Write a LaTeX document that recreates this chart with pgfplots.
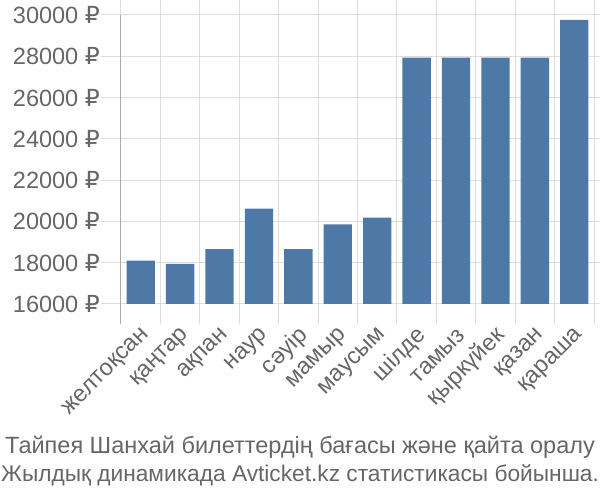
\documentclass[border=0pt]{standalone}
\usepackage{fontspec}
\setmainfont{Liberation Sans}
\newfontfamily\dejavu{DejaVu Sans}
\newcommand{\rub}{{\dejavu ₽}}
\usepackage{pgfplots}
\pgfplotsset{compat=1.18}
\definecolor{barblue}{HTML}{4E79A7}
\definecolor{txt}{HTML}{666666}
\definecolor{gridc}{HTML}{DDDDDD}
\definecolor{axc}{HTML}{AAAAAA}
\begin{document}
\begin{tikzpicture}[x=1pt,y=1pt]
\useasboundingbox (0,0) rectangle (600,500);
\begin{axis}[
  at={(121pt,196pt)}, anchor=south west,
  scale only axis, width=473pt, height=289pt,
  xmin=-0.5, xmax=11.5, ymin=16000, ymax=30000,
  scaled y ticks=false,
  axis line style={draw=none},
  ytick={16000,18000,...,30000},
  yticklabels={16000 \rub,18000 \rub,20000 \rub,22000 \rub,24000 \rub,26000 \rub,28000 \rub,30000 \rub},
  xtick={-0.5,0.5,...,11.5},
  xticklabels={},
  xmajorgrids, ymajorgrids,
  grid style={gridc, line width=1pt},
  tick align=outside,
  major tick length=20pt,
  tick style={gridc, line width=1pt},
  yticklabel style={font=\fontsize{23.5}{27}\selectfont, text=txt, anchor=east, inner sep=0pt, xshift=-1pt},
  extra x ticks={0,1,...,11},
  extra x tick labels={желтоқсан,қаңтар,ақпан,наур,сәуір,мамыр,маусым,шілде,тамыз,қыркүйек,қазан,қараша},
  extra x tick style={grid=none, major tick length=0pt, tick style={draw=none},
    xticklabel style={font=\fontsize{23.5}{27}\selectfont, text=txt, inner sep=0pt, yshift=-28pt, xshift=6pt, rotate=45, anchor=east}},
  clip=false,
]
\addplot[ybar, bar width=0.72, fill=barblue, draw=none] coordinates {
  (0,18100) (1,17940) (2,18660) (3,20620) (4,18660) (5,19860)
  (6,20180) (7,27930) (8,27930) (9,27930) (10,27930) (11,29760)};
\draw[axc, line width=1pt] (rel axis cs:0,1) -- ([yshift=-20pt]rel axis cs:0,0);
\end{axis}
\node[text=txt, font=\fontsize{23.5}{28}\selectfont, inner sep=0pt, anchor=center] at (300,53)
  {Тайпея Шанхай билеттердің бағасы және қайта оралу};
\node[text=txt, font=\fontsize{22.7}{28}\selectfont, inner sep=0pt, anchor=center] at (300,25)
  {Жылдық динамикада Avticket.kz статистикасы бойынша.};
\end{tikzpicture}
\end{document}
